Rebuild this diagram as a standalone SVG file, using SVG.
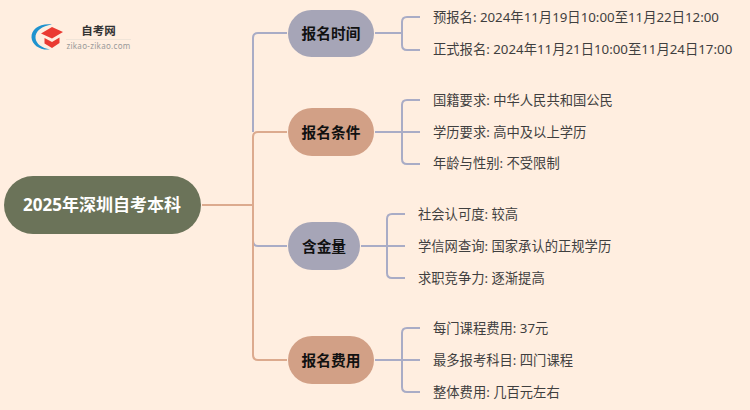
<svg xmlns="http://www.w3.org/2000/svg" width="750" height="410" viewBox="0 0 750 410">
<style>
.f{font-family:"Noto Sans","Noto Sans CJK SC",sans-serif}
.t{font-size:13.300px;fill:#3f3f3f;dominant-baseline:central}
.n{font-size:14.700px;font-weight:700;fill:#111;text-anchor:middle;dominant-baseline:central}
.c{fill:none;stroke-width:2}
.b{stroke:#a9acc6}
.s{stroke:#dcaa8e}
</style>
<rect width="750" height="410" fill="#ffeee0"/>
<g id="logo">
<path d="M52 24.500C40 23 31 29 31.500 37.500C32 45 40 50.500 50 49.500C42 48 36 44 35.500 38C35 31 42 26 52 24.500Z" fill="#1f93cf"/>
<path d="M41 33.500L52 27L63 32L52 38.500Z" fill="#ea3a32"/>
<path d="M44.500 38L52 42L59.500 37.500V43L52 48L44.500 43.500Z" fill="#ea3a32"/>
<text class="f" x="98.500" y="30.500" font-size="11.500" font-weight="700" fill="#333" text-anchor="middle" dominant-baseline="central">自考网</text>
<rect x="66" y="39" width="65" height="1" fill="#f0e4d8"/>
<text class="f" x="98.500" y="45" font-size="8" fill="#999" text-anchor="middle" dominant-baseline="central" letter-spacing=".3">zikao-zikao.com</text>
</g>
<g id="connectors">
<path class="c b" d="M287 33H258Q253 33 253 38V132"/>
<path class="c b" d="M253 241Q253 246 258 246H287"/>
<path class="c s" d="M202 205H253M287 132H258Q253 132 253 137V355Q253 360 258 360H287"/>
<path class="c b" d="M375 33H402M420 17H407Q402 17 402 22V45Q402 50 407 50H420"/>
<path class="c b" d="M375 132H420M420 100H407Q402 100 402 105V159Q402 164 407 164H420"/>
<path class="c b" d="M361 246H405M405 214H392Q387 214 387 219V273Q387 278 392 278H405"/>
<path class="c b" d="M375 360H420M420 328H407Q402 328 402 333V387Q402 392 407 392H420"/>
</g>
<g id="root"><rect x="4" y="176" width="197" height="58" rx="29" fill="#6b7359"/><text class="f" x="102" y="204.500" font-size="17" font-weight="700" fill="#fff" text-anchor="middle" dominant-baseline="central">2025年深圳自考本科</text></g>
<g id="n1"><rect x="288" y="10" width="86" height="47" rx="23.500" fill="#a6a5b7"/><text class="f n" x="331" y="33">报名时间</text></g>
<g id="n2"><rect x="288" y="108" width="86" height="48" rx="24" fill="#d2a086"/><text class="f n" x="331" y="131.500">报名条件</text></g>
<g id="n3"><rect x="288" y="222" width="72" height="48" rx="24" fill="#a6a5b7"/><text class="f n" x="324" y="245.500">含金量</text></g>
<g id="n4"><rect x="288" y="336" width="86" height="48" rx="24" fill="#d2a086"/><text class="f n" x="331" y="359.500">报名费用</text></g>
<g id="l1"><text class="f t" x="433" y="17">预报名: 2024年11月19日10:00至11月22日12:00</text></g>
<g id="l2"><text class="f t" x="433" y="49">正式报名: 2024年11月21日10:00至11月24日17:00</text></g>
<g id="l3"><text class="f t" x="433" y="100">国籍要求: 中华人民共和国公民</text></g>
<g id="l4"><text class="f t" x="433" y="132">学历要求: 高中及以上学历</text></g>
<g id="l5"><text class="f t" x="433" y="163">年龄与性别: 不受限制</text></g>
<g id="l6"><text class="f t" x="418" y="214">社会认可度: 较高</text></g>
<g id="l7"><text class="f t" x="418" y="246">学信网查询: 国家承认的正规学历</text></g>
<g id="l8"><text class="f t" x="418" y="278">求职竞争力: 逐渐提高</text></g>
<g id="l9"><text class="f t" x="433" y="328">每门课程费用: 37元</text></g>
<g id="l10"><text class="f t" x="433" y="360">最多报考科目: 四门课程</text></g>
<g id="l11"><text class="f t" x="433" y="392">整体费用: 几百元左右</text></g>
</svg>
